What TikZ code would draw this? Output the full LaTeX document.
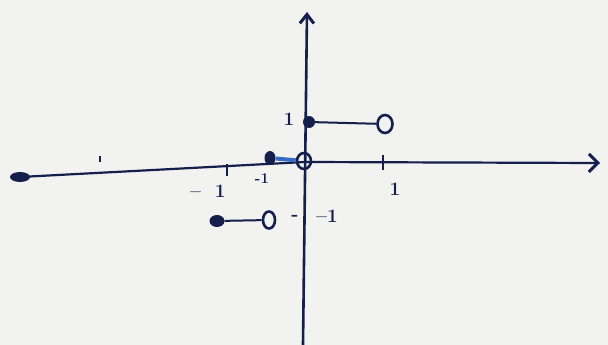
\documentclass[tikz,border=0pt]{standalone}
\usetikzlibrary{arrows.meta,shapes.geometric}
\definecolor{ink}{rgb}{0.08,0.12,0.30}
\definecolor{blueink}{rgb}{0.22,0.42,0.78}
\definecolor{paper}{rgb}{0.95,0.95,0.94}
\tikzset{
  axisline/.style={draw=ink, line width=2.2pt},
  filldot/.style={circle, fill=ink, inner sep=0pt, minimum size=12pt},
  opendot/.style={ellipse, draw=ink, line width=2.6pt, inner sep=0pt, minimum width=15pt, minimum height=18pt},
  seg/.style={draw=ink, line width=2pt},
  tick/.style={draw=ink, line width=2pt},
  lbl/.style={text=ink, font=\fontsize{19}{19}\selectfont\bfseries, inner sep=0pt}
}
\begin{document}
\begin{tikzpicture}[x=1pt,y=-1pt]
\fill[paper] (0,0) rectangle (608,345);
\useasboundingbox (0,0) rectangle (608,345);
% axes
\coordinate (L) at (20,177);
\coordinate (M) at (305,162);
\coordinate (R) at (600,163);
\draw[axisline, -{Straight Barb[length=9pt,width=18pt,line width=3pt]}] (L) -- (M) -- (R);
\node[ellipse, fill=ink, minimum width=20pt, minimum height=10pt, inner sep=0pt] (lend) at (L) {};
\coordinate (B) at (303,345);
\coordinate (T) at (307,12);
\draw[axisline, line width=2.6pt, -{Straight Barb[length=9pt,width=14pt,line width=3pt]}] (B) -- (T);
% ticks
\coordinate (t0a) at (100,156); \coordinate (t0b) at (100,162);
\draw[tick] (t0a) -- (t0b);
\coordinate (t1a) at (227,164); \coordinate (t1b) at (227,176);
\draw[tick] (t1a) -- (t1b);
\coordinate (t2a) at (383,155); \coordinate (t2b) at (383,170);
\draw[tick] (t2a) -- (t2b);
% labels
\node[lbl] (l1) at (289,119) {1};
\node[lbl] (lm1a) at (208,191) {--\hspace{14pt}1};
\node[lbl, font=\fontsize{15}{15}\selectfont\bfseries] (lm1b) at (262,179) {-1};
\node[lbl] (lp1) at (395,189) {1};
\node[lbl] (lm1d) at (295,218) {-};
\node[lbl] (lm1c) at (327,216) {--1};
% top piece
\node[filldot] (a1) at (309,122) {};
\node[opendot] (a2) at (385,124) {};
\draw[seg] (a1) -- (a2);
% middle piece
\node[filldot, minimum width=11pt, minimum height=14pt, ellipse] (b1) at (270,158) {};
\node[opendot, minimum width=14pt, minimum height=16pt] (b2) at (304,161) {};
\draw[draw=blueink, line width=4pt] (b1) -- (b2);
% bottom piece
\node[filldot, ellipse, minimum width=15pt, minimum height=12pt] (c1) at (217,221) {};
\node[opendot, minimum width=12pt, minimum height=17pt] (c2) at (269,220) {};
\draw[seg] (c1) -- (c2);
\end{tikzpicture}
\end{document}
